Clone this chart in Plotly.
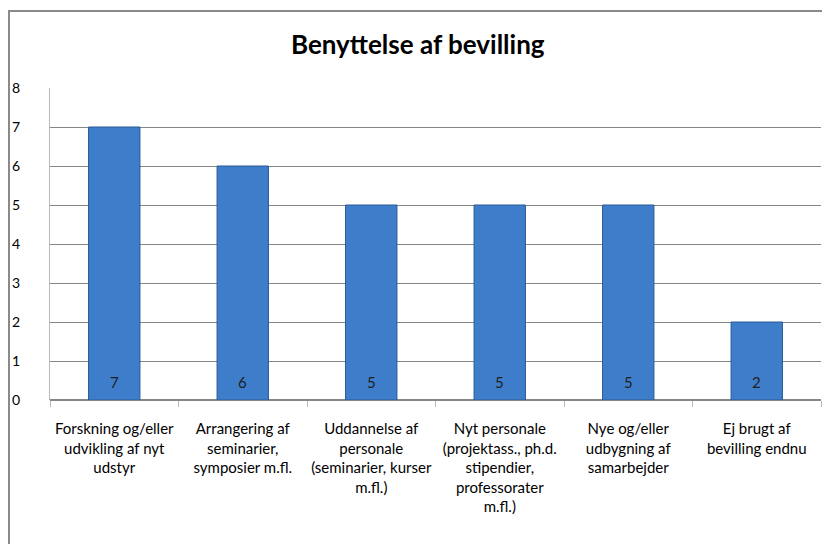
import plotly.graph_objects as go

categories = [
    "Forskning og/eller<br>udvikling af nyt<br>udstyr",
    "Arrangering af<br>seminarier,<br>symposier m.fl.",
    "Uddannelse af<br>personale<br>(seminarier, kurser<br>m.fl.)",
    "Nyt personale<br>(projektass., ph.d.<br>stipendier,<br>professorater<br>m.fl.)",
    "Nye og/eller<br>udbygning af<br>samarbejder",
    "Ej brugt af<br>bevilling endnu",
]
values = [7, 6, 5, 5, 5, 2]
y_ticks = [0, 1, 2, 3, 4, 5, 6, 7, 8]

fig = go.Figure()
fig.add_trace(go.Bar(
    x=categories,
    y=values,
    marker=dict(color="#3e7dca", line=dict(color="#2a5a96", width=1)),
    width=0.4,
))

# value labels sit just above the base of each bar
for cat, v in zip(categories, values):
    fig.add_annotation(x=cat, y=0, text=str(v), showarrow=False,
                       yanchor="bottom", yshift=7,
                       font=dict(size=15, color="#1f1f1f"))

fig.update_layout(
    width=830, height=544,
    margin=dict(l=42, r=17, t=80, b=152),
    paper_bgcolor="white",
    plot_bgcolor="white",
    font=dict(family="Lato, 'Open Sans', sans-serif", size=14, color="#000000"),
    title=dict(text="<b>Benyttelse af bevilling</b>", x=0.477, xref="paper", y=0.932,
               xanchor="center", yanchor="middle",
               font=dict(size=26, color="#000000")),
    showlegend=False,
    shapes=[dict(type="rect", xref="paper", yref="paper",
                 x0=-0.0532, x1=1.05, y0=-0.6, y1=1.247,
                 line=dict(color="#8a8a8a", width=2), layer="below")],
)

fig.update_xaxes(
    type="category",
    tickson="boundaries",
    ticks="outside",
    ticklen=6,
    tickcolor="#b8b8b8",
    tickangle=0,
    showgrid=False,
    showline=False,
    ticklabelstandoff=18,
    automargin=False,
    tickfont=dict(size=15),
)
fig.update_yaxes(
    range=[0, 8],
    tickvals=y_ticks,
    showgrid=True,
    gridcolor="#868686",
    gridwidth=1,
    zeroline=True,
    zerolinecolor="#868686",
    showline=True,
    linecolor="#b8b8b8",
    ticklabelstandoff=26,
    automargin=False,
    tickfont=dict(size=14),
)

fig.write_html("out.html")
